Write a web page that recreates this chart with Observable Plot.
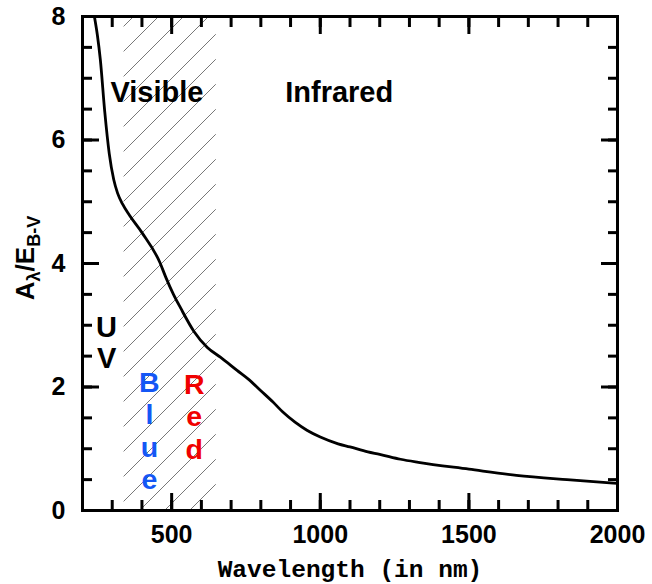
<!DOCTYPE html>
<html><head><meta charset="utf-8">
<script src="https://cdn.jsdelivr.net/npm/d3@7"></script>
<script src="https://cdn.jsdelivr.net/npm/@observablehq/plot@0.6"></script>
<style>body{margin:0;background:#fff}</style>
</head><body><div id="chart"></div>
<script>
// Extinction curve A_lambda / E(B-V) vs wavelength (nm)
const wavelength = [240,250,260,275,290,305,318,335,358,400,460,480,506,530,575,620,665,720,760,800,840,875,915,955,1000,1060,1100,1160,1200,1270,1330,1500,1660,1830,2000];
const extinction = [8.0,7.7,7.3,6.45,5.78,5.36,5.14,4.96,4.78,4.5,4.02,3.78,3.5,3.28,2.9,2.64,2.48,2.27,2.12,1.94,1.76,1.59,1.43,1.30,1.19,1.08,1.03,0.95,0.91,0.83,0.78,0.67,0.57,0.50,0.44];

const xTickValues = [500,1000,1500,2000];
const yTickValues = [0,2,4,6,8];
const xMinorTicks = d3.range(300, 2000, 100);
const yMinorTicks = d3.range(0.5, 8, 0.5);

const visibleBand = [340, 650];

const regionLabels = ["Visible", "Infrared"];
const regionX = [294, 882];
const regionY = [6.76, 6.76];

const bandLabels = ["U\nV", "B\nl\nu\ne", "R\ne\nd"];
const bandX = [281, 425, 576];
const bandY = [3.16, 2.3, 2.26];
const bandColors = ["#000000", "#1457f5", "#f00000"];
const bandSizes = [29, 28.5, 28.5];
const bandLineHeights = [1.07, 1.14, 1.14];

const xLabel = "Wavelength (in nm)";
const yLabelParts = ["A", "λ", "/E", "B-V"];

const sans = "Liberation Sans, Arial, Helvetica, sans-serif";

const tickAxis = (fn, anchor, ticks, size) =>
  fn({anchor, ticks, tickSize: -size, text: null, label: null, strokeWidth: 3});

const chart = Plot.plot({
  width: 652,
  height: 584,
  marginLeft: 82,
  marginRight: 35,
  marginTop: 16,
  marginBottom: 74,
  x: {domain: [200, 2000], axis: null},
  y: {domain: [0, 8], axis: null},
  marks: [
    Plot.rect([visibleBand], {x1: d => d[0], x2: d => d[1], fill: "url(#hatch)"}),
    Plot.line(wavelength, {x: d => d, y: (d, i) => extinction[i], curve: "monotone-x", stroke: "black", strokeWidth: 2.8}),
    Plot.text(regionLabels, {x: (d, i) => regionX[i], y: (d, i) => regionY[i], text: d => d, textAnchor: "start", lineAnchor: "middle", fontSize: 29, fontWeight: "bold", fontFamily: sans, fill: "black"}),
    ...bandLabels.map((t, i) => Plot.text([t], {x: () => bandX[i], y: () => bandY[i], text: d => d, textAnchor: "middle", lineAnchor: "top", fontSize: bandSizes[i], lineHeight: bandLineHeights[i], fontWeight: "bold", fontFamily: sans, fill: bandColors[i]})),
    Plot.frame({stroke: "black", strokeWidth: 3}),
    tickAxis(Plot.axisX, "bottom", xMinorTicks, 10),
    tickAxis(Plot.axisX, "top", xMinorTicks, 10),
    tickAxis(Plot.axisX, "bottom", xTickValues, 17),
    tickAxis(Plot.axisX, "top", xTickValues, 17),
    tickAxis(Plot.axisY, "left", yMinorTicks, 10),
    tickAxis(Plot.axisY, "right", yMinorTicks, 10),
    tickAxis(Plot.axisY, "left", yTickValues, 17),
    tickAxis(Plot.axisY, "right", yTickValues, 17),
    Plot.axisX({anchor: "bottom", ticks: xTickValues, tickSize: 0, tickPadding: 15, tickFormat: "d", label: null, fontSize: 25, fontWeight: "bold", fontFamily: sans}),
    Plot.axisY({anchor: "left", ticks: yTickValues, tickSize: 0, tickPadding: 17, tickFormat: "d", label: null, fontSize: 25, fontWeight: "bold", fontFamily: sans}),
    Plot.text([xLabel], {frameAnchor: "bottom", dy: 59, text: d => d, lineAnchor: "middle", fontSize: 24.5, fontWeight: "bold", fontFamily: "Liberation Mono, Courier New, monospace", fill: "black"})
  ]
});

const svg = d3.select(chart);
svg.insert("defs", ":first-child").html(
  `<pattern id="hatch" patternUnits="userSpaceOnUse" width="25" height="25">
     <path d="M-2,2 l4,-4 M0,25 l25,-25 M23,27 l4,-4" stroke="#555" stroke-width="0.8" fill="none"/>
   </pattern>`);

const lab = svg.append("text")
  .attr("transform", "translate(34,258) rotate(-90)")
  .attr("text-anchor", "middle")
  .attr("font-family", sans)
  .attr("font-weight", "bold")
  .attr("font-size", 26)
  .attr("fill", "black");
lab.append("tspan").text(yLabelParts[0]);
lab.append("tspan").attr("font-size", 18).attr("dy", 6).text(yLabelParts[1]);
lab.append("tspan").attr("dy", -6).text(yLabelParts[2]);
lab.append("tspan").attr("font-size", 18).attr("dy", 6).text(yLabelParts[3]);

document.getElementById("chart").append(chart);
</script>
</body></html>
